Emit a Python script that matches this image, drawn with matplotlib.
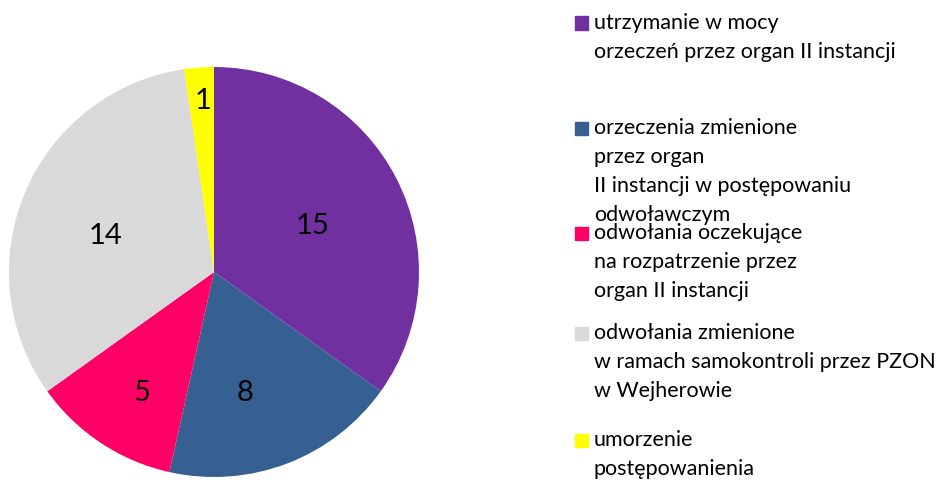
import numpy as np
import matplotlib
matplotlib.use("Agg")
import matplotlib.pyplot as plt
from matplotlib.patches import Rectangle
from matplotlib.transforms import offset_copy

# dane
kategorie = [
    "utrzymanie w mocy\norzeczeń przez organ II instancji",
    "orzeczenia zmienione\nprzez organ\nII instancji w postępowaniu\nodwoławczym",
    "odwołania oczekujące\nna rozpatrzenie przez\norgan II instancji",
    "odwołania zmienione\nw ramach samokontroli przez PZON\nw Wejherowie",
    "umorzenie\npostępowanienia",
]
wartosci = [15, 8, 5, 14, 1]
kolory = ["#7030A0", "#376092", "#FF0066", "#D9D9D9", "#FFFF00"]

plt.rcParams['font.family'] = ['Lato', 'DejaVu Sans']

W, H = 945, 482
fig = plt.figure(figsize=(W / 100, H / 100), dpi=100)

# pie: srodek (214, 272), promien 205 px
cx, cy, r = 214, 272, 205
ax = fig.add_axes([(cx - r) / W, (H - cy - r) / H, 2 * r / W, 2 * r / H])
wedges, _ = ax.pie(wartosci, colors=kolory, startangle=90, counterclock=False,
                   radius=1.0, wedgeprops=dict(linewidth=0))
ax.set_xlim(-1, 1)
ax.set_ylim(-1, 1)
ax.set_aspect('equal')
ax.axis('off')

# etykiety wartosci (odleglosc od srodka, przesuniecie kata jak w Excelu)
rozm = 21
odl = [0.538, 0.600, 0.680, 0.561, 0.846]
dkat = [-1.0, -6.1, 2.1, 3.7, -0.6]
tr = offset_copy(ax.transData, fig=fig, x=0, y=-0.36 * rozm, units='points')
for w, v, d, dk in zip(wedges, wartosci, odl, dkat):
    kat = np.deg2rad((w.theta1 + w.theta2) / 2 + dk)
    ax.text(d * np.cos(kat), d * np.sin(kat), str(v), ha='center', va='baseline',
            fontsize=rozm, color='black', transform=tr)

# legenda
start_y = [23, 128, 233, 333, 440]
krok = 29
for lab, kol, y0 in zip(kategorie, kolory, start_y):
    fig.patches.append(Rectangle((575 / W, 1 - (y0 + 6.5) / H), 13 / W, 13 / H,
                                 transform=fig.transFigure, color=kol))
    for i, linia in enumerate(lab.split("\n")):
        fig.text(594 / W, 1 - (y0 + i * krok) / H, linia, ha='left', va='center',
                 fontsize=15.5, color='black')

fig.savefig("out.png", dpi=100)
